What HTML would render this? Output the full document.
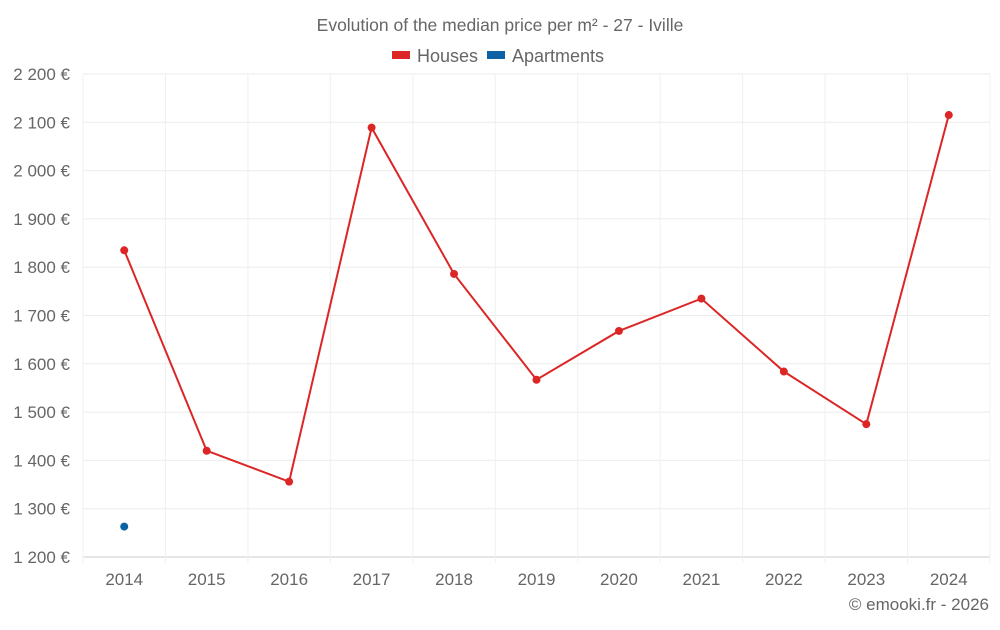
<!DOCTYPE html>
<html><head><meta charset="utf-8"><style>
body{margin:0;background:#fff;font-family:"Liberation Sans",sans-serif;}
svg text{font-family:"Liberation Sans",sans-serif;fill:#666;}
</style></head><body>
<svg id="c" width="1000" height="625">
<text x="500" y="31" text-anchor="middle" font-size="17.5">Evolution of the median price per m² - 27 - Iville</text>
<g>
<g><rect x="392" y="51" width="18" height="8" fill="#dc2626"/><text x="417" y="62" font-size="18">Houses</text></g>
<g><rect x="487" y="51" width="18" height="8" fill="#0b63a5"/><text x="512" y="62" font-size="18">Apartments</text></g>
</g>
<g id="grid"></g><g id="axes"></g><g id="marks"></g>
<text x="989" y="610" text-anchor="end" font-size="17">© emooki.fr - 2026</text>
</svg>
<script>
const years=["2014","2015","2016","2017","2018","2019","2020","2021","2022","2023","2024"];
const houses=[1835,1420,1356,2089,1786,1567,1668,1735,1584,1475,2115];
const apartments=[1263,null,null,null,null,null,null,null,null,null,null];
const yTicks=[1200,1300,1400,1500,1600,1700,1800,1900,2000,2100,2200];
const L=83,R=990,T=74,B=557,NS="http://www.w3.org/2000/svg";
const bw=(R-L)/years.length;
const x=i=>L+bw*(i+0.5);
const y=v=>B-(v-1200)/1000*(B-T);
function mk(p,t,a){const e=document.createElementNS(NS,t);for(const k in a)e.setAttribute(k,a[k]);document.getElementById(p).appendChild(e);return e;}
const fmt=v=>String(v).replace(/\B(?=(\d{3})+(?!\d))/g," ")+" €";
yTicks.forEach(v=>{
 const g=mk("grid","line",{x1:L,x2:R,y1:y(v),y2:y(v),stroke:v===1200?"#ccc":"#ebebeb"});
 
 
 const t=mk("axes","text",{x:70,y:y(v)+6,"text-anchor":"end","font-size":"17"});t.textContent=fmt(v);
 
 
});
for(let i=0;i<=years.length;i++){
 const g=mk("grid","line",{x1:L+bw*i,x2:L+bw*i,y1:T,y2:B+6,stroke:"#f0f0f0"});
 
 
}
years.forEach((yr,i)=>{
 const t=mk("axes","text",{x:x(i),y:585,"text-anchor":"middle","font-size":"17"});t.textContent=yr;
 
 
});
const pl=mk("marks","polyline",{points:houses.map((v,i)=>x(i)+","+y(v)).join(" "),fill:"none",stroke:"#dc2626","stroke-width":2});


houses.forEach((v,i)=>{
 const c=mk("marks","circle",{cx:x(i),cy:y(v),r:4,fill:"#dc2626"});
 
 
});
apartments.forEach((v,i)=>{
 if(v==null)return;
 const c=mk("marks","circle",{cx:x(i),cy:y(v),r:4,fill:"#0b63a5"});
 
 
});
</script>
</body></html>
